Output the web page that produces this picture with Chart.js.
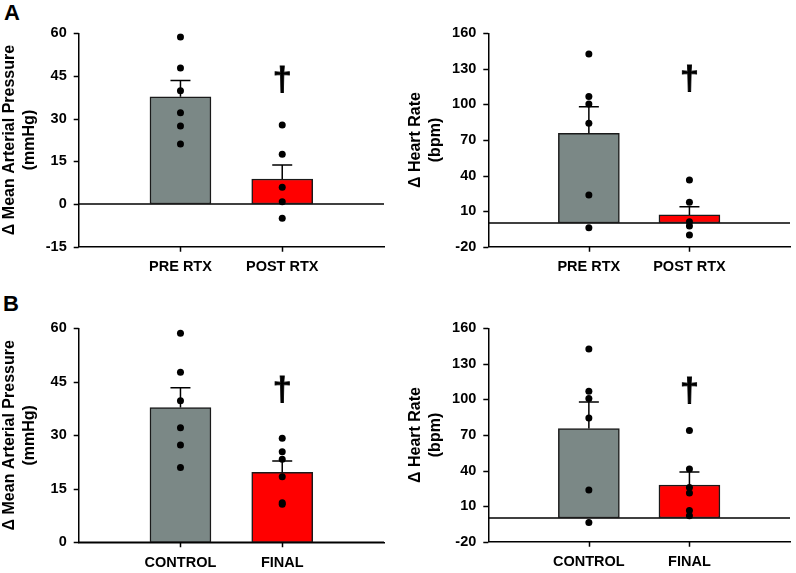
<!DOCTYPE html>
<html>
<head>
<meta charset="utf-8">
<script src="https://cdn.jsdelivr.net/npm/chart.js@4.4.1/dist/chart.umd.min.js"></script>
<style>
    body { margin: 0; background: #fff; }
    .wrap { position: relative; width: 796px; height: 573px; overflow: hidden; }
    canvas { position: absolute; }
    .letter { position: absolute; font: bold 22px "Liberation Sans", Arial, sans-serif; color: #000; }
</style>
</head>
<body>
<div class="wrap">
    <div class="letter" style="left:4px;top:0px;">A</div>
    <div class="letter" style="left:3px;top:291px;">B</div>
    <canvas id="mapA" width="400" height="280" style="left:0;top:0;"></canvas>
    <canvas id="hrA" width="396" height="280" style="left:400px;top:0;"></canvas>
    <canvas id="mapB" width="400" height="293" style="left:0;top:280px;"></canvas>
    <canvas id="hrB" width="396" height="293" style="left:400px;top:280px;"></canvas>
</div>
<script>
// categories
const rtxLabels = ["PRE RTX", "POST RTX"];
const timeLabels = ["CONTROL", "FINAL"];

// panel A: mean arterial pressure
const mapA_means = [37.7, 8.8];
const mapA_semTop = [43.4, 13.7];
const mapA_pre = [58.7, 47.8, 39.8, 32.1, 27.4, 21.1];
const mapA_post = [27.8, 17.5, 5.9, 0.8, -5.0];

// panel A: heart rate
const hrA_means = [75.7, 6.8];
const hrA_semTop = [98.1, 13.8];
const hrA_pre = [142.6, 106.6, 100.4, 84.1, 23.6, -4.0];
const hrA_post = [36.3, 17.5, 1.1, -2.5, -10.1];

// panel B: mean arterial pressure
const mapB_means = [37.8, 19.6];
const mapB_semTop = [43.3, 22.8];
const mapB_control = [58.6, 47.7, 39.7, 32.1, 27.3, 21.0];
const mapB_final = [29.2, 25.4, 23.3, 18.4, 11.1, 10.7];

// panel B: heart rate
const hrB_means = [75.4, 27.8];
const hrB_semTop = [97.9, 38.8];
const hrB_control = [142.6, 106.8, 100.7, 84.4, 23.6, -3.7];
const hrB_final = [73.7, 41.4, 25.8, 21.1, 6.4, 1.9];

// dagger positions (value on y axis)
const daggerLevels = { mapA: 43.5, hrA: 121, mapB: 42.5, hrB: 107 };

// y axis ticks
const mapTicksA = { min: -15, max: 60, step: 15 };
const mapTicksB = { min: 0, max: 60, step: 15 };
const hrTicks = { min: -20, max: 160, step: 30 };

const FONT = "'Liberation Sans', Arial, sans-serif";
const GRAY = "#7b8886";
const RED = "#ff0000";

const extrasPlugin = {
    id: "extras",
    afterDatasetDraw(chart, args) {
        if (args.meta.type !== "bar") return;
        const opts = chart.options.plugins.extras;
        const y = chart.scales.y;
        const ctx = chart.ctx;
        ctx.save();
        ctx.strokeStyle = "#000";
        ctx.lineWidth = 1.5;
        args.meta.data.forEach((bar, i) => {
            const top = opts.semTop[i];
            if (top == null) return;
            const yTop = y.getPixelForValue(top);
            ctx.beginPath();
            ctx.moveTo(bar.x, bar.y);
            ctx.lineTo(bar.x, yTop);
            ctx.moveTo(bar.x - 10, yTop);
            ctx.lineTo(bar.x + 10, yTop);
            ctx.stroke();
        });
        ctx.restore();
    },
    beforeDatasetsDraw(chart) {
        const area = chart.chartArea;
        const y0 = chart.scales.y.getPixelForValue(0);
        const ctx = chart.ctx;
        ctx.save();
        ctx.strokeStyle = "#000";
        ctx.lineWidth = 1.5;
        ctx.beginPath();
        ctx.moveTo(area.left, y0);
        ctx.lineTo(area.right, y0);
        ctx.stroke();
        ctx.restore();
    },
    afterDraw(chart) {
        const opts = chart.options.plugins.extras;
        const ctx = chart.ctx;
        const area = chart.chartArea;
        const xs = chart.scales.x;
        const ys = chart.scales.y;

        // tick marks outside the axes
        ctx.save();
        ctx.strokeStyle = "#000";
        ctx.lineWidth = 1.5;
        ctx.beginPath();
        [1, 2].forEach((i) => {
            const px = Math.round(xs.getPixelForValue(i)) + 0.5;
            ctx.moveTo(px, area.bottom);
            ctx.lineTo(px, area.bottom + 5);
        });
        ys.ticks.forEach((t) => {
            const py = Math.round(ys.getPixelForValue(t.value)) + 0.5;
            ctx.moveTo(area.left - 5, py);
            ctx.lineTo(area.left, py);
        });
        ctx.stroke();
        ctx.restore();

        const x = xs.getPixelForValue(2);
        const y = ys.getPixelForValue(opts.dagger);
        ctx.save();
        ctx.fillStyle = "#000";
        ctx.strokeStyle = "#000";
        ctx.lineWidth = 0.8;
        ctx.font = "bold 34px " + FONT;
        ctx.textAlign = "center";
        ctx.textBaseline = "middle";
        ctx.fillText("\u2020", x, y);
        ctx.strokeText("\u2020", x, y);
        ctx.restore();
    }
};

function makePanel(id, labels, means, semTop, dotsLeft, dotsRight, ticks, title, dims) {
    const allLabels = ["", labels[0], labels[1], ""];
    const dots = dotsLeft.map(v => ({ x: labels[0], y: v }))
        .concat(dotsRight.map(v => ({ x: labels[1], y: v })));

    return new Chart(document.getElementById(id), {
        data: {
            labels: allLabels,
            datasets: [
                {
                    type: "line",
                    data: dots,
                    showLine: false,
                    pointRadius: 3.5,
                    pointBackgroundColor: "#000",
                    pointBorderWidth: 0,
                    order: 0
                },
                {
                    type: "bar",
                    data: [null, means[0], means[1], null],
                    backgroundColor: [GRAY, GRAY, RED, RED],
                    borderColor: "#1a1a1a",
                    borderWidth: 1.5,
                    borderSkipped: false,
                    barThickness: 61,
                    order: 1
                }
            ]
        },
        options: {
            responsive: false,
            animation: false,
            events: [],
            layout: {
                padding: { top: dims.top, right: dims.right, left: 0, bottom: 0 }
            },
            plugins: {
                legend: { display: false },
                tooltip: { enabled: false },
                extras: { semTop: [null, semTop[0], semTop[1], null], dagger: dims.dagger }
            },
            scales: {
                x: {
                    type: "category",
                    offset: false,
                    border: { color: "#000", width: 1.5 },
                    grid: { display: false, offset: false, tickLength: 6 },
                    ticks: {
                        color: "#000",
                        font: { family: FONT, size: 14.5, weight: "bold" },
                        padding: 6,
                        autoSkip: false,
                        maxRotation: 0
                    },
                    afterFit(scale) { scale.height = dims.xHeight; }
                },
                y: {
                    min: ticks.min,
                    max: ticks.max,
                    border: { color: "#000", width: 1.5 },
                    grid: { display: false, tickLength: 5 },
                    ticks: {
                        stepSize: ticks.step,
                        color: "#000",
                        font: { family: FONT, size: 14.5, weight: "bold" },
                        padding: 7
                    },
                    title: {
                        display: true,
                        text: title,
                        color: "#000",
                        font: { family: FONT, size: 16, weight: "bold", lineHeight: 1.25 },
                        padding: { top: dims.titlePad, bottom: 0 }
                    },
                    afterFit(scale) { scale.width = dims.yWidth; }
                }
            }
        },
        plugins: [extrasPlugin]
    });
}

makePanel("mapA", rtxLabels, mapA_means, mapA_semTop, mapA_pre, mapA_post, mapTicksA,
    ["\u0394 Mean Arterial Pressure", "(mmHg)"],
    { top: 33.3, right: 16, yWidth: 78.7, xHeight: 33.3, titlePad: 0, dagger: daggerLevels.mapA });

makePanel("hrA", rtxLabels, hrA_means, hrA_semTop, hrA_pre, hrA_post, hrTicks,
    ["\u0394 Heart Rate", "(bpm)"],
    { top: 33.3, right: 0, yWidth: 88.3, xHeight: 33.3, titlePad: 6, dagger: daggerLevels.hrA });

makePanel("mapB", timeLabels, mapB_means, mapB_semTop, mapB_control, mapB_final, mapTicksB,
    ["\u0394 Mean Arterial Pressure", "(mmHg)"],
    { top: 48.3, right: 16, yWidth: 78.7, xHeight: 30.7, titlePad: 0, dagger: daggerLevels.mapB });

makePanel("hrB", timeLabels, hrB_means, hrB_semTop, hrB_control, hrB_final, hrTicks,
    ["\u0394 Heart Rate", "(bpm)"],
    { top: 48.3, right: 0, yWidth: 88.3, xHeight: 31.3, titlePad: 6, dagger: daggerLevels.hrB });
</script>
</body>
</html>
